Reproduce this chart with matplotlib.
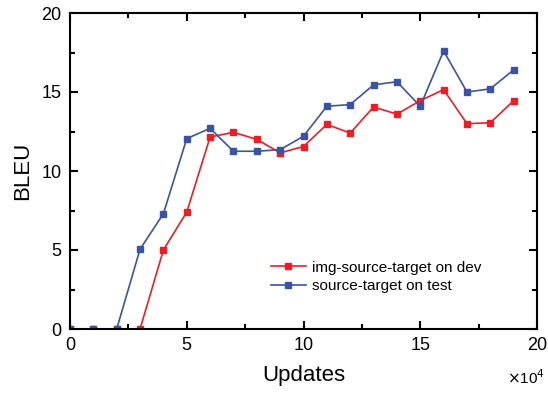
import matplotlib
matplotlib.use("Agg")
import matplotlib.pyplot as plt
from matplotlib.ticker import MultipleLocator

plt.rcParams["font.family"] = ["Liberation Sans", "DejaVu Sans"]

updates = list(range(0, 20))
blue_test = [0, 0, 0, 5.05, 7.3, 12.05, 12.7, 11.25, 11.25, 11.35, 12.2, 14.1, 14.2,
             15.45, 15.65, 14.1, 17.6, 15.0, 15.2, 16.4]
red_dev = [0, 0, 0, 0, 5.0, 7.4, 12.15, 12.45, 12.0, 11.15, 11.55, 12.95, 12.4,
           14.05, 13.6, 14.45, 15.15, 13.0, 13.05, 14.45]

RED = "#EE1D23"
BLUE = "#3A53A4"

fig = plt.figure(figsize=(5.48, 3.93), dpi=100)
ax = fig.add_axes([70 / 548, 1 - 329 / 393, 467 / 548, 316 / 393])

ax.plot(updates, red_dev, color=RED, marker="s", markersize=5, linewidth=1.2,
        label="img-source-target on dev")
ax.plot(updates, blue_test, color=BLUE, marker="s", markersize=5, linewidth=1.2,
        label="source-target on test")

ax.set_xlim(0, 20)
ax.set_ylim(0, 20)
ax.xaxis.set_major_locator(MultipleLocator(5))
ax.xaxis.set_minor_locator(MultipleLocator(2.5))
ax.yaxis.set_major_locator(MultipleLocator(5))
ax.yaxis.set_minor_locator(MultipleLocator(2.5))
ax.tick_params(which="both", direction="in", top=True, right=True, width=1.5,
               labelsize=13, pad=6)
ax.tick_params(which="major", length=6)
ax.tick_params(which="minor", length=3.5)
for s in ax.spines.values():
    s.set_linewidth(1.5)

ax.set_xlabel("Updates", fontsize=16, labelpad=8)
ax.set_ylabel("BLEU", fontsize=16, labelpad=6)
fig.text(0.995, 1 - 378 / 393, r"$\times$10$^4$", fontsize=11,
         ha="right", va="center")

ax.legend(loc="lower left", bbox_to_anchor=(0.40, 0.07), frameon=False,
          fontsize=11, handlelength=2.3, handletextpad=0.4, labelspacing=0.3)

fig.savefig("out.png", dpi=100)
